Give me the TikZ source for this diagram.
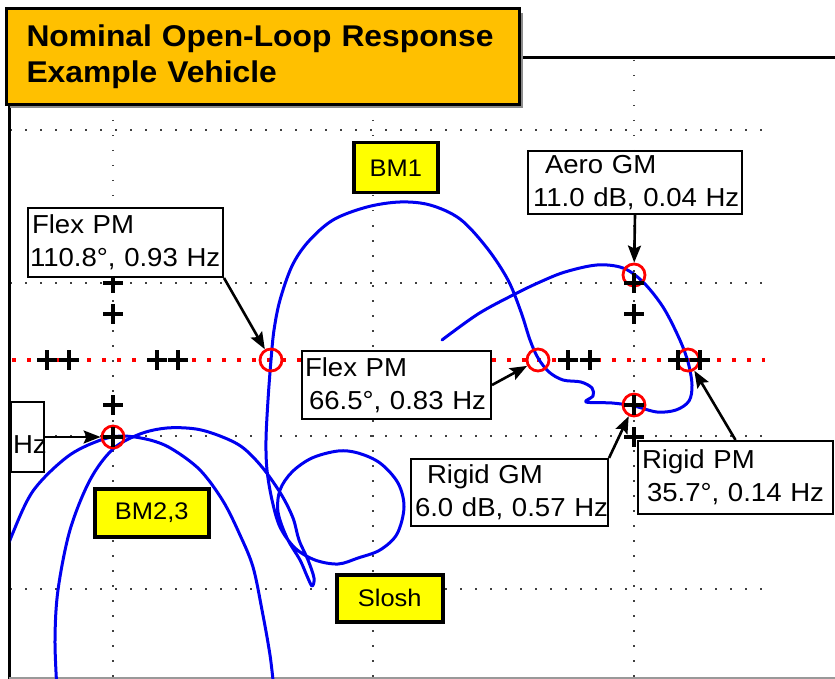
\documentclass[tikz,border=0pt]{standalone}
\usepackage{fontspec}
\setmainfont{Liberation Sans}[FakeStretch=1.06]
\usetikzlibrary{arrows.meta}
\definecolor{titleor}{RGB}{255,192,0}
\definecolor{plotblue}{RGB}{0,0,240}
\definecolor{tagyellow}{RGB}{255,255,0}
\newcommand\pmk[2]{\draw[pm] ({#1-10},#2) -- ({#1+10},#2) (#1,{#2-10}) -- (#1,{#2+10});}
\tikzset{
  gridl/.style={draw=black!75, line width=1.3pt, dash pattern=on 1.5pt off 13.5pt},
  redl/.style={draw=red, line width=3.5pt, dash pattern=on 4pt off 11pt},
  axisl/.style={draw=black, line width=3pt},
  nyq/.style={draw=plotblue, line width=3pt, line join=round, line cap=round},
  pm/.style={draw=black, line width=3.5pt},
  mk/.style={circle, draw=red, line width=2.8pt, minimum size=22pt, inner sep=0pt},
  annot/.style={draw=black, line width=2pt, fill=white, align=left, inner xsep=2pt, inner ysep=0pt,
    font=\fontsize{26}{33}\selectfont, anchor=north west},
  tagbox/.style={draw=black, line width=3.5pt, fill=tagyellow, inner sep=0pt,
    font=\fontsize{24}{30}\selectfont, anchor=north west},
  arr/.style={draw=black, line width=2.6pt, -{Stealth[length=17pt,width=13pt,inset=3pt]}},
}
\begin{document}
\begin{tikzpicture}[x=1pt,y=-1pt]
\useasboundingbox (0,0) rectangle (835,679);
\fill[white] (0,0) rectangle (835,679);
% grid
\foreach \gx in {113,373,634} \draw[gridl] (\gx,60) -- (\gx,679);
\foreach \gy in {130,283,436,589} \draw[gridl] (10,\gy) -- (767,\gy);
\draw[redl] (12,360) -- (765,360);
% axes
\draw[axisl] (9,58) -- (9,679);
\draw[axisl] (518,58) -- (835,58);
\draw[black!40, line width=1.5pt] (9,678) -- (835,678);
% curves
\begin{scope}
\clip (10.5,59.5) rectangle (835,679);
\draw[nyq] plot[smooth, tension=0.55] coordinates {(442,340) (478,314) (513,295) (540,282) (565,272) (597,265) (623,268) (643,282) (663,307) (679,338) (688,362) (692,385) (689,401) (676,410) (657,412) (634,406) (612,403) (586,402) (593,396) (592,388) (581,382) (563,380) (549,372) (538,358) (530,340) (521,312) (508,280) (487,248) (460,219) (430,205) (400,202) (367,207) (333,220) (308,242) (292,266) (280,300) (274,330) (271,360) (268,400) (266,440) (267,470) (272,500) (280,527) (295,548) (315,560) (338,564) (358,558) (380,550) (397,534) (404,507) (398,483) (380,463) (358,453) (338,451) (312,458) (292,472) (280,490) (278,512) (287,538) (300,560) (307,576) (312,586) (314,578) (308,560) (299,540) (293,518) (281,494) (262,467) (242,447) (220,436) (196,429) (167,428) (140,434) (113,449) (90,480) (70,530) (58,590) (55,640) (57,690)};
\draw[nyq] plot[smooth, tension=0.55] coordinates {(5,556) (12,535) (33,491) (67,457) (98,441) (122,436) (150,440) (172,449) (200,470) (223,501) (240,535) (253,567) (262,610) (270,655) (274,690)};
\end{scope}
% margin circles
\node[mk] (cbm) at (113,437) {};
\node[mk] (cf1) at (271,360) {};
\node[mk] (cf2) at (538,360) {};
\node[mk] (caero) at (634,275) {};
\node[mk] (crpm) at (688,360) {};
\node[mk] (crgm) at (634,405) {};
% plus marks
\pmk{113}{283}\pmk{113}{314}\pmk{113}{405}\pmk{113}{437}
\pmk{47}{360}\pmk{69}{360}\pmk{157}{360}\pmk{178}{360}
\pmk{568}{360}\pmk{590}{360}\pmk{678}{360}\pmk{700}{360}
\pmk{634}{283}\pmk{634}{314}\pmk{634}{405}\pmk{634}{437}
% annotation boxes
\node[annot, minimum width=195pt, minimum height=69pt, text width=191pt] (flex1) at (27,207) {\mbox{\hspace*{2pt}Flex PM}\\\mbox{110.8°, 0.93 Hz}};
\node[annot, minimum width=189pt, minimum height=68pt, text width=185pt] (flex2) at (301,350) {\mbox{\hspace*{1pt}Flex PM}\\\mbox{\hspace*{5pt}66.5°, 0.83 Hz}};
\node[annot, minimum width=214pt, minimum height=63pt, text width=210pt] (aero) at (527,150) {\mbox{\hspace*{15pt}Aero GM}\\\mbox{\hspace*{3pt}11.0 dB, 0.04 Hz}};
\node[annot, minimum width=197pt, minimum height=67pt, text width=193pt] (rgm) at (410,458) {\mbox{\hspace*{14pt}Rigid GM}\\\mbox{\hspace*{2pt}6.0 dB, 0.57 Hz}};
\node[annot, minimum width=195pt, minimum height=73pt, text width=191pt] (rpm) at (637,440) {\mbox{\hspace*{2pt}Rigid PM}\\\mbox{\hspace*{7pt}35.7°, 0.14 Hz}};
\node[annot, minimum width=33pt, minimum height=70pt, text width=29pt, align=right] (hzbox) at (10,401) {\mbox{}\\Hz};
% tags
\node[tagbox, minimum width=84pt, minimum height=50pt] (bm1) at (352,141) {BM1};
\node[tagbox, minimum width=114pt, minimum height=48pt] (bm23) at (93,487) {BM2,3};
\node[tagbox, minimum width=106pt, minimum height=47pt] (slosh) at (335,573) {Slosh};
% arrows
\draw[arr] (flex1.south east) -- (cf1);
\draw[arr] (flex2.east) -- (cf2);
\draw[arr] (aero.south) -- (caero);
\draw[arr] (rgm.north east) -- (crgm);
\draw[arr] (rpm.north) -- (crpm);
\draw[arr] (hzbox.east) -- (cbm);
% title
\fill[black!45] (10,13) rectangle (523,108);
\node[draw=black, line width=3pt, fill=titleor, anchor=north west, minimum width=513pt, minimum height=96pt,
  text width=473pt, inner xsep=20pt, align=left, font=\fontsize{30}{36}\selectfont\bfseries] (title) at (5,7)
  {\mbox{Nominal Open-Loop Response}\\Example Vehicle};
\end{tikzpicture}
\end{document}
